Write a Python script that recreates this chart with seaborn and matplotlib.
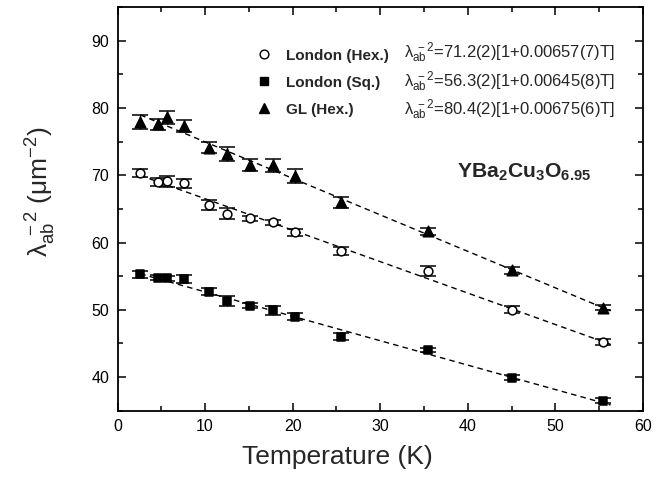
import numpy as np
import pandas as pd
import matplotlib
matplotlib.use("Agg")
import matplotlib.pyplot as plt
from matplotlib.lines import Line2D
from matplotlib.ticker import MultipleLocator
import seaborn as sns

# Temperatures (K) shared by all three data sets
temperature = [2.6, 4.6, 5.7, 7.6, 10.5, 12.5, 15.1, 17.7, 20.3, 25.5, 35.4, 45.0, 55.4]

# lambda_ab^-2 (um^-2) and its uncertainties
london_hex = [70.3, 69.0, 69.1, 68.8, 65.6, 64.3, 63.6, 63.0, 61.5, 58.8, 55.8, 50.0, 45.2]
london_hex_err = [0.6, 0.6, 0.8, 0.7, 0.8, 0.8, 0.4, 0.4, 0.5, 0.6, 0.7, 0.5, 0.5]
london_sq = [55.3, 54.8, 54.7, 54.6, 52.7, 51.3, 50.6, 49.9, 49.0, 46.0, 44.0, 39.9, 36.5]
london_sq_err = [0.5, 0.4, 0.4, 0.6, 0.5, 0.7, 0.4, 0.6, 0.5, 0.5, 0.3, 0.4, 0.4]
gl_hex = [77.9, 77.6, 78.6, 77.4, 74.1, 73.2, 71.6, 71.5, 69.9, 66.0, 61.7, 55.9, 50.3]
gl_hex_err = [1.0, 0.8, 1.0, 0.9, 0.8, 1.0, 0.9, 1.0, 1.0, 0.8, 0.5, 0.5, 0.4]

# Linear fits lambda^-2 = A [1 - b T]
fit_amplitude = [71.2, 56.3, 80.4]
fit_slope = [0.00657, 0.00645, 0.00675]
fit_range = [2.6, 56.3]

series_names = ["London (Hex.)", "London (Sq.)", "GL (Hex.)"]
fit_labels = [
    "λ$_{\\rm ab}^{\\ -2}$=71.2(2)[1+0.00657(7)T]",
    "λ$_{\\rm ab}^{\\ -2}$=56.3(2)[1+0.00645(8)T]",
    "λ$_{\\rm ab}^{\\ -2}$=80.4(2)[1+0.00675(6)T]",
]

sns.set_theme(style="ticks")
plt.rcParams["font.family"] = ["Liberation Sans", "DejaVu Sans"]
plt.rcParams["mathtext.fontset"] = "custom"
plt.rcParams["mathtext.rm"] = "Liberation Sans"
plt.rcParams["mathtext.it"] = "Liberation Sans:italic"
plt.rcParams["mathtext.bf"] = "Liberation Sans:bold"
plt.rcParams["mathtext.default"] = "regular"

fig = plt.figure(figsize=(6.67, 4.8), dpi=100)
ax = fig.add_axes([117.5 / 667, 1 - 410.7 / 480, 525.5 / 667, 403.5 / 480])

styles = [
    dict(marker="o", facecolor="white", size=6.3),
    dict(marker="s", facecolor="black", size=6.0),
    dict(marker="^", facecolor="black", size=7.6),
]
values = [london_hex, london_sq, gl_hex]
errors = [london_hex_err, london_sq_err, gl_hex_err]

# dashed fit lines
t_fit = np.linspace(fit_range[0], fit_range[1], 50)
for a, b in zip(fit_amplitude, fit_slope):
    fit_df = pd.DataFrame({"T": t_fit, "y": a * (1 - b * t_fit)})
    sns.lineplot(data=fit_df, x="T", y="y", ax=ax, color="black",
                 lw=1.0, linestyle=(0, (4, 3)), zorder=2)

handles = []
for name, y, err, st in zip(series_names, values, errors, styles):
    ax.errorbar(temperature, y, yerr=err, fmt="none", ecolor="black",
                elinewidth=1.0, capsize=5.5, capthick=1.1, zorder=3)
    df = pd.DataFrame({"T": temperature, "y": y})
    sns.scatterplot(data=df, x="T", y="y", ax=ax, marker=st["marker"],
                    s=st["size"] ** 2, color=st["facecolor"],
                    edgecolor="black", linewidth=1.1, zorder=4)
    handles.append(Line2D([], [], marker=st["marker"], linestyle="none",
                          markersize=st["size"],
                          markerfacecolor=st["facecolor"],
                          markeredgecolor="black", markeredgewidth=1.0,
                          label=name))

leg = fig.legend(handles=handles, loc="upper left",
                 bbox_to_anchor=(249 / 667, 1 - 41 / 480),
                 frameon=False, borderpad=0, handlelength=1.0,
                 handletextpad=0.95, labelspacing=0.85,
                 prop=dict(weight="bold", size=11))

for i, lab in enumerate(fit_labels):
    fig.text(404 / 667, 1 - (53 + 28.5 * i) / 480, lab, fontsize=12,
             ha="left", va="center")

ax.text(457 / 667, 1 - 172 / 480,
        r"YBa$_\mathbf{2}$Cu$_\mathbf{3}$O$_\mathbf{6.95}$",
        transform=fig.transFigure, fontsize=15.2, fontweight="bold",
        ha="left", va="center")

ax.set_xlim(0, 60)
ax.set_ylim(35, 95)
ax.xaxis.set_major_locator(MultipleLocator(10))
ax.xaxis.set_minor_locator(MultipleLocator(5))
ax.yaxis.set_major_locator(MultipleLocator(10))
ax.yaxis.set_minor_locator(MultipleLocator(5))
ax.set_yticks([40, 50, 60, 70, 80, 90])
ax.tick_params(which="both", direction="in", top=True, right=True,
               labelsize=11.5, width=1.1, color="black", labelcolor="black")
ax.tick_params(which="major", length=6, pad=6)
ax.tick_params(which="minor", length=3.5)
for sp in ax.spines.values():
    sp.set_linewidth(1.3)
    sp.set_color("black")

ax.set_xlabel("Temperature (K)", fontsize=19, labelpad=8)
ax.xaxis.label.set_x(0.418)
ax.set_ylabel("λ$_{\\rm ab}^{\\ -2}$ (μm$^{-2}$)", fontsize=19, labelpad=24)
ax.yaxis.label.set_y(0.542)

fig.savefig("out.png", dpi=100)
